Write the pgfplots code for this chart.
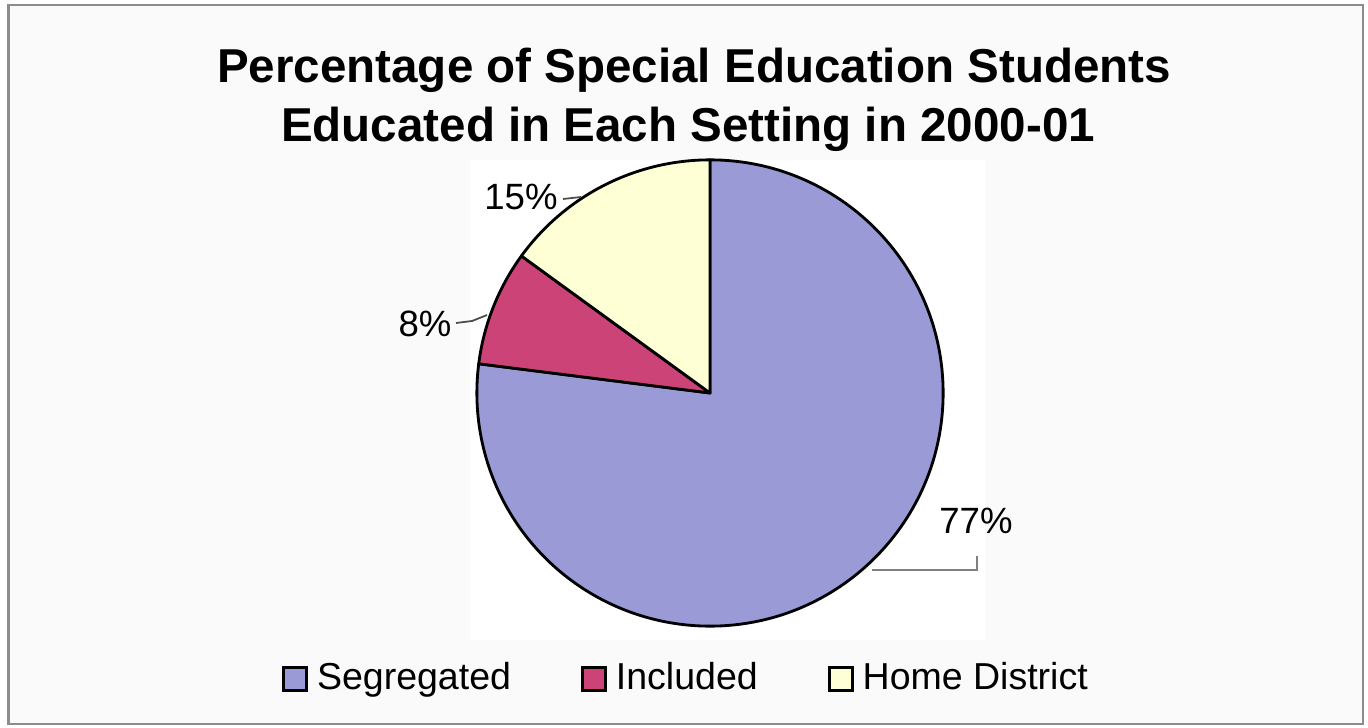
\documentclass[border=0pt]{standalone}
\usepackage{pgfplots}
\pgfplotsset{compat=1.18}
\usepackage{pgfplotstable}
\usepackage{fontspec}
\setmainfont{Liberation Sans}

\definecolor{segc}{RGB}{154,154,214}
\definecolor{incc}{RGB}{204,68,119}
\definecolor{homc}{RGB}{255,255,214}
\definecolor{framec}{RGB}{140,140,140}

\pgfplotsset{sqlegend/.style={legend image code/.code={\filldraw[##1] (0cm,-0.115cm) rectangle (0.23cm,0.115cm);}}}

\pgfplotstableread{
name share
Segregated 77
Included 8
Home 15
}\piedata

\begin{document}
\begin{tikzpicture}
\begin{axis}[
  x=0.01cm, y=0.01cm,
  xmin=0, xmax=1368, ymin=0, ymax=727,
  hide axis, clip=false,
  legend columns=-1,
  legend style={
    at={(axis cs:685,48)}, anchor=center,
    draw=none, fill=none, inner sep=0pt,
    font=\fontsize{10.67}{12}\selectfont,
    /tikz/every odd column/.append style={column sep=0.09cm},
    /tikz/every even column/.append style={column sep=0.70cm},
    nodes={inner sep=0pt},
  },
]
% background and frame
\fill[white] (axis cs:0,0) rectangle (axis cs:1368,727);
\fill[black!2] (axis cs:9,4) rectangle (axis cs:1362,722);
\fill[white] (axis cs:470,87) rectangle (axis cs:985,567);
\draw[framec, line width=0.6pt] (axis cs:8.5,3) rectangle (axis cs:1363,722);

% read values
\pgfplotstablegetelem{0}{share}\of\piedata \let\vA\pgfplotsretval
\pgfplotstablegetelem{1}{share}\of\piedata \let\vB\pgfplotsretval
\pgfplotstablegetelem{2}{share}\of\piedata \let\vC\pgfplotsretval
\pgfmathsetmacro\aA{90-3.6*\vA}
\pgfmathsetmacro\aB{\aA-3.6*\vB}
\pgfmathsetmacro\aC{\aB-3.6*\vC}

% sectors
\filldraw[fill=segc, draw=black, line width=0.8pt, line join=round]
  (axis cs:710,334) -- ++(90:2.33cm) arc[start angle=90, end angle=\aA, radius=2.33cm] -- cycle;
\filldraw[fill=incc, draw=black, line width=0.8pt, line join=round]
  (axis cs:710,334) -- ++(\aA:2.33cm) arc[start angle=\aA, end angle=\aB, radius=2.33cm] -- cycle;
\filldraw[fill=homc, draw=black, line width=0.8pt, line join=round]
  (axis cs:710,334) -- ++(\aB:2.33cm) arc[start angle=\aB, end angle=\aC, radius=2.33cm] -- cycle;

% title
\node[anchor=base, font=\fontsize{13.52}{16.8}\selectfont\bfseries] at (axis cs:694,644) {Percentage of Special Education Students};
\node[anchor=base, font=\fontsize{13.52}{16.8}\selectfont\bfseries] at (axis cs:688,585) {Educated in Each Setting in 2000-01};

% data labels
\node[anchor=base, font=\fontsize{10.4}{12}\selectfont] at (axis cs:521,517) {\vC\%};
\node[anchor=base, font=\fontsize{10.4}{12}\selectfont] at (axis cs:425,390) {\vB\%};
\node[anchor=base, font=\fontsize{10.4}{12}\selectfont] at (axis cs:976,194) {\vA\%};

% leader lines
\draw[black!70, line width=0.5pt] (axis cs:563,528) -- (axis cs:581,530);
\draw[black!70, line width=0.5pt] (axis cs:456,404) -- (axis cs:472,406) -- (axis cs:487,412);
\draw[black!50, line width=0.5pt] (axis cs:872,157) -- (axis cs:977,157) -- (axis cs:977,171);

% legend
\addlegendimage{sqlegend, fill=segc, draw=black, line width=0.8pt}
\addlegendentry{Segregated}
\addlegendimage{sqlegend, fill=incc, draw=black, line width=0.8pt}
\addlegendentry{Included}
\addlegendimage{sqlegend, fill=homc, draw=black, line width=0.8pt}
\addlegendentry{Home District}
\end{axis}
\end{tikzpicture}
\end{document}
